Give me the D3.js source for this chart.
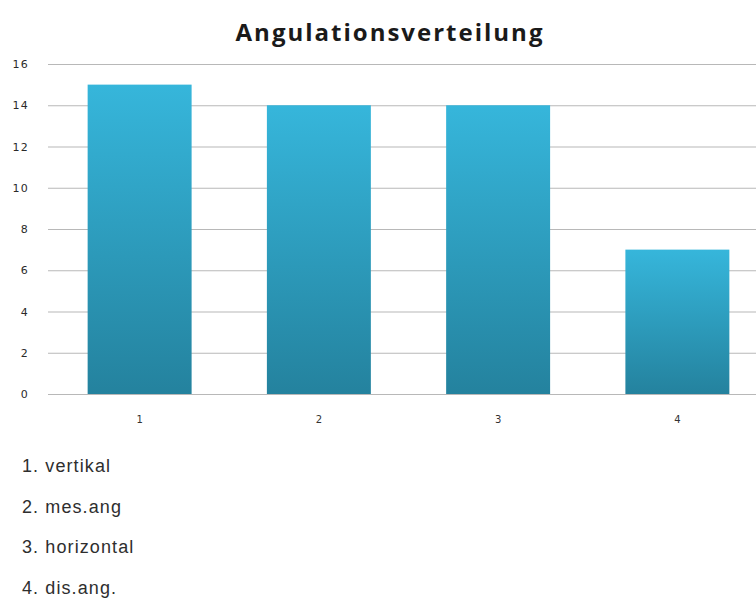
<!DOCTYPE html>
<html>
<head>
<meta charset="utf-8">
<script src="https://cdn.jsdelivr.net/npm/d3@7"></script>
<style>
  html, body { margin: 0; padding: 0; background: #ffffff; }
  svg { display: block; }
</style>
</head>
<body>
<svg id="chart" width="756" height="599"></svg>
<script>
// Chart data
const categories = ["1", "2", "3", "4"];
const counts = [15, 14, 14, 7];
const yTicks = [0, 2, 4, 6, 8, 10, 12, 14, 16];
const legendLabels = ["1. vertikal", "2. mes.ang", "3. horizontal", "4. dis.ang."];
const title = "Angulationsverteilung";

const svg = d3.select("#chart");
const W = 756, H = 599;

const x = d3.scaleBand()
  .domain(categories)
  .range([50, 767])
  .paddingInner(0.42)
  .paddingOuter(0.21);

const y = d3.scaleLinear()
  .domain([0, 16])
  .range([394, 64]);

// Vertical gradient for bars
const defs = svg.append("defs");
const grad = defs.append("linearGradient")
  .attr("id", "barGrad")
  .attr("x1", 0).attr("y1", 0).attr("x2", 0).attr("y2", 1);
grad.append("stop").attr("offset", "0%").attr("stop-color", "#36b6db");
grad.append("stop").attr("offset", "100%").attr("stop-color", "#24829e");

// Title
svg.append("text")
  .attr("x", 390)
  .attr("y", 41)
  .attr("text-anchor", "middle")
  .attr("font-family", "'Open Sans', sans-serif")
  .attr("font-weight", "bold")
  .attr("font-size", 24)
  .attr("letter-spacing", 2)
  .attr("fill", "#1a1a1a")
  .text(title);

// Gridlines + y labels
const yAxis = d3.axisLeft(y)
  .tickValues(yTicks)
  .tickSize(-(W - 48))
  .tickPadding(19)
  .tickFormat(d3.format("d"));

const gy = svg.append("g")
  .attr("transform", "translate(48,0)")
  .call(yAxis);
gy.select(".domain").remove();
gy.selectAll(".tick line")
  .attr("stroke", "#b8b8b8")
  .attr("stroke-width", 1.2);
gy.selectAll(".tick text")
  .attr("font-family", "'DejaVu Sans', sans-serif")
  .attr("font-size", 11)
  .attr("letter-spacing", 1.2)
  .attr("fill", "#2a2a2a");

// Bars
svg.append("g")
  .selectAll("rect")
  .data(counts)
  .join("rect")
  .attr("x", (d, i) => x(categories[i]))
  .attr("y", d => y(d))
  .attr("width", x.bandwidth())
  .attr("height", d => y(0) - y(d))
  .attr("fill", "url(#barGrad)");

// X axis labels
const xAxis = d3.axisBottom(x).tickSize(0).tickPadding(22);
const gx = svg.append("g")
  .attr("transform", `translate(0,${y(0)})`)
  .call(xAxis);
gx.select(".domain").remove();
gx.selectAll(".tick text")
  .attr("font-family", "'DejaVu Sans', sans-serif")
  .attr("font-size", 10)
  .attr("fill", "#333");

// Legend list below the chart
svg.append("g")
  .selectAll("text")
  .data(legendLabels)
  .join("text")
  .attr("x", 22)
  .attr("y", (d, i) => 472 + i * 40.5)
  .attr("font-family", "'Liberation Sans', Arial, sans-serif")
  .attr("font-size", 18)
  .attr("letter-spacing", 1.1)
  .attr("fill", "#2e2e2e")
  .text(d => d);
</script>
</body>
</html>
